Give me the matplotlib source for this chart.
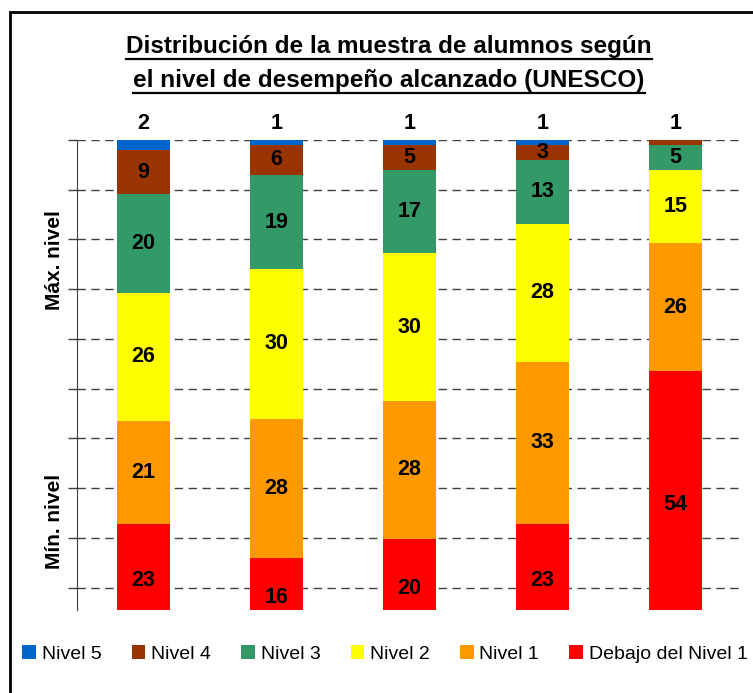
import matplotlib
matplotlib.use("Agg")
import matplotlib.pyplot as plt
import numpy as np
from matplotlib.patches import Rectangle
from matplotlib.lines import Line2D

plt.rcParams['font.family'] = ['Liberation Sans', 'DejaVu Sans']

# ---- data ----
categories = ['1', '2', '3', '4', '5']
series_names = ['Debajo del Nivel 1', 'Nivel 1', 'Nivel 2', 'Nivel 3', 'Nivel 4', 'Nivel 5']
debajo = [23, 16, 20, 23, 54]
nivel1 = [21, 28, 28, 33, 26]
nivel2 = [26, 30, 30, 28, 15]
nivel3 = [20, 19, 17, 13, 5]
nivel4 = [9, 6, 5, 3, 1]
nivel5 = [2, 1, 1, 1, 0]
colors = ['#FF0000', '#FF9900', '#FFFF00', '#339966', '#993300', '#0066CC']
title_lines = ['Distribución de la muestra de alumnos según',
               'el nivel de desempeño alcanzado (UNESCO)']

W, H = 753, 693
fig = plt.figure(figsize=(W / 100, H / 100), dpi=100)
ax = fig.add_axes([77 / W, 1 - 610 / H, (742 - 77) / W, (610 - 140) / H])

data = np.array([debajo, nivel1, nivel2, nivel3, nivel4, nivel5], dtype=float)
totals = data.sum(axis=0)
pct = data / totals * 100
x = np.arange(len(categories))
bottom = np.zeros(len(categories))
centers = []
for i, name in enumerate(series_names):
    ax.bar(x, pct[i], 0.4, bottom=bottom, color=colors[i], label=name, zorder=2)
    centers.append(bottom + pct[i] / 2)
    bottom = bottom + pct[i]

# labels
for j in range(len(categories)):
    nz = [i for i in range(len(series_names)) if data[i, j] > 0]
    top_i = nz[-1]
    for i in nz:
        if i == top_i:
            y = bottom[j] + 3.4
        else:
            y = centers[i][j]
        ax.text(x[j], y, f"{int(data[i, j])}", ha='center', va='center',
                fontsize=15.5, fontweight='bold', zorder=3, clip_on=False)

ax.set_xlim(-0.5, len(categories) - 0.5)
ax.set_ylim(5.5, 100)
ax.set_yticks(np.arange(10, 101, 10))
ax.set_yticklabels([])
ax.set_xticks([])
ax.tick_params(axis='y', direction='out', length=6.5, width=1, color='#404040')
ax.yaxis.grid(True, linestyle=(0, (6, 4)), color='#404040', linewidth=1, zorder=0)
ax.set_axisbelow(True)
for s in ['top', 'right', 'bottom']:
    ax.spines[s].set_visible(False)
ax.spines['left'].set_color('#404040')

# y annotations
fig.text(55 / W, 1 - 260 / H, 'Máx. nivel', rotation=90, ha='center', va='center',
         fontsize=15, fontweight='bold')
fig.text(55 / W, 1 - 521 / H, 'Mín. nivel', rotation=90, ha='center', va='center',
         fontsize=15, fontweight='bold')

# title
t1 = fig.text(389 / W, 1 - 46 / H, title_lines[0], ha='center', va='center',
              fontsize=17.5, fontweight='bold')
t2 = fig.text(389 / W, 1 - 80 / H, title_lines[1], ha='center', va='center',
              fontsize=17.5, fontweight='bold')

# legend
handles, labels = ax.get_legend_handles_labels()
leg = fig.legend(handles[::-1], labels[::-1], loc='center', ncol=6,
                 bbox_to_anchor=(385 / W, 1 - 654 / H), frameon=False,
                 fontsize=14, handlelength=0.7, handleheight=0.7,
                 handletextpad=0.3, columnspacing=1.55, borderaxespad=0)

# border
fig.patches.append(Rectangle((10 / W, -0.05), 1.1, 1 - 12 / H + 0.05, transform=fig.transFigure,
                             fill=False, edgecolor='black', linewidth=2))

# underline title
fig.canvas.draw()
r = fig.canvas.get_renderer()
for t in (t1, t2):
    bb = t.get_window_extent(r)
    yy = bb.y0 - 1
    fig.lines.append(Line2D([bb.x0 / W, bb.x1 / W], [yy / H, yy / H],
                            transform=fig.transFigure, color='black', linewidth=1.6))

fig.savefig('out.png', dpi=100)
